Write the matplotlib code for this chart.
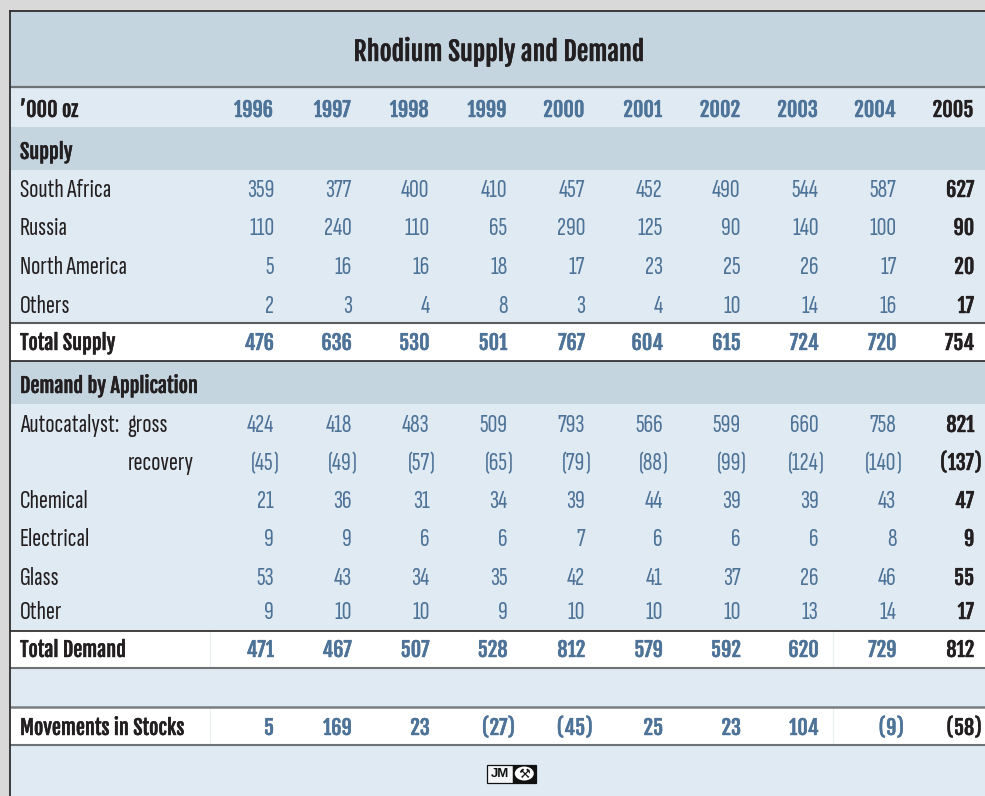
import matplotlib
matplotlib.use("Agg")
import matplotlib.pyplot as plt
from matplotlib.patches import Rectangle, Ellipse
import matplotlib.patheffects as pe

# ---------------- data ----------------
title = "Rhodium Supply and Demand"
unit_label = "\u2019000 oz"
years = ["1996", "1997", "1998", "1999", "2000", "2001", "2002", "2003", "2004", "2005"]

supply_header = "Supply"
south_africa = [359, 377, 400, 410, 457, 452, 490, 544, 587, 627]
russia = [110, 240, 110, 65, 290, 125, 90, 140, 100, 90]
north_america = [5, 16, 16, 18, 17, 23, 25, 26, 17, 20]
others = [2, 3, 4, 8, 3, 4, 10, 14, 16, 17]
total_supply = [476, 636, 530, 501, 767, 604, 615, 724, 720, 754]

demand_header = "Demand by Application"
auto_gross = [424, 418, 483, 509, 793, 566, 599, 660, 758, 821]
auto_recovery = [-45, -49, -57, -65, -79, -88, -99, -124, -140, -137]
chemical = [21, 36, 31, 34, 39, 44, 39, 39, 43, 47]
electrical = [9, 9, 6, 6, 7, 6, 6, 6, 8, 9]
glass = [53, 43, 34, 35, 42, 41, 37, 26, 46, 55]
other = [9, 10, 10, 9, 10, 10, 10, 13, 14, 17]
total_demand = [471, 467, 507, 528, 812, 579, 592, 620, 729, 812]
movements = [5, 169, 23, -27, -45, 25, 23, 104, -9, -58]

# rows: (label, sublabel, values, kind)
rows = [
    ("South Africa", "", south_africa, "reg"),
    ("Russia", "", russia, "reg"),
    ("North America", "", north_america, "reg"),
    ("Others", "", others, "reg"),
    ("Total Supply", "", total_supply, "total"),
    ("Autocatalyst:", "gross", auto_gross, "reg"),
    ("", "recovery", auto_recovery, "reg"),
    ("Chemical", "", chemical, "reg"),
    ("Electrical", "", electrical, "reg"),
    ("Glass", "", glass, "reg"),
    ("Other", "", other, "reg"),
    ("Total Demand", "", total_demand, "total"),
    ("Movements in Stocks", "", movements, "total"),
]

# ---------------- layout (pixels) ----------------
W, H = 985, 796
row_baselines = [197, 235, 274, 313, 350, 432, 470, 508, 546, 585, 619, 657, 735]
header_baseline = 117
supply_baseline = 159
demand_baseline = 393
title_baseline = 61
col_right0, col_step = 274, 77.8
label_x, sub_x = 20, 127.5

DARK = "#c4d5e0"
LIGHT = "#e0eaf2"
WHITE = "#ffffff"
OUTER = "#d9d9d9"
BLUE = "#4e7398"
BLACK = "#231f20"

REG_FONT = ["Sofia Sans Extra Condensed", "Pathway Gothic One", "DejaVu Sans"]
BOLD_FONT = ["Fjalla One", "Oswald", "DejaVu Sans"]

fig = plt.figure(figsize=(W / 100, H / 100), dpi=100, facecolor=OUTER)
ax = fig.add_axes([0, 0, 1, 1])
ax.set_xlim(0, W)
ax.set_ylim(H, 0)
ax.axis("off")
renderer = fig.canvas.get_renderer()


def fit_size(text, family, weight, width):
    t = ax.text(0, 0, text, fontsize=20, family=family, weight=weight)
    w = t.get_window_extent(renderer).width
    t.remove()
    return 20 * width / w


REG_FS = fit_size("South Africa", REG_FONT, "normal", 91)
BOLD_FS = fit_size("Total Supply", BOLD_FONT, "normal", 95.5)
TITLE_FS = fit_size(title, BOLD_FONT, "normal", 291)


def bold_text(x, y, s, color, fs=None, ha="left"):
    return ax.text(x, y, s, family=BOLD_FONT, fontsize=fs or BOLD_FS, color=color, ha=ha,
                   va="baseline", zorder=5,
                   path_effects=[pe.withStroke(linewidth=0.3, foreground=color)])


# ---------------- bands ----------------
x0, x1 = 10, W + 10
bands = [
    (11, 87, DARK), (87, 127, LIGHT), (127, 170, DARK), (170, 323, LIGHT),
    (323, 361, WHITE), (361, 404, DARK), (404, 631, LIGHT), (631, 668, WHITE),
    (668, 707, LIGHT), (707, 745, WHITE), (745, H + 5, LIGHT),
]
for ya, yb, c in bands:
    ax.add_patch(Rectangle((x0, ya), x1 - x0, yb - ya, facecolor=c, edgecolor="none", zorder=1))

# faint dividers in white rows
for ya, yb in [(631, 668), (707, 745)]:
    for xv in (210, 833):
        ax.plot([xv, xv], [ya, yb], color="#eceff2", lw=0.8, zorder=2)

# horizontal rules
rules = [(87, "#6f7275", 1.6), (323, "#5a5d60", 1.5), (361, "#222222", 1.2), (631, "#222222", 1.2),
         (668, "#6f7275", 1.5), (707, "#7a7d80", 1.8), (745, "#6f7275", 1.5)]
for yv, c, lw in rules:
    ax.plot([x0, x1], [yv, yv], color=c, lw=lw, zorder=3, solid_capstyle="butt")

# outer border
ax.plot([x0, x0], [11, H + 5], color="#2e2e2e", lw=1.3, zorder=4)
ax.plot([x0, x1], [11, 11], color="#2e2e2e", lw=1.3, zorder=4)

# ---------------- texts ----------------
bold_text((x0 + 988) / 2, title_baseline, title, BLACK, fs=TITLE_FS, ha="center")
bold_text(label_x, header_baseline, unit_label, BLACK)
for i, yr in enumerate(years):
    bold_text(col_right0 - 1 + i * col_step, header_baseline, yr,
              BLACK if i == len(years) - 1 else BLUE, ha="right")
bold_text(label_x, supply_baseline, supply_header, BLACK)
bold_text(label_x, demand_baseline, demand_header, BLACK)


def draw_value(x, y, v, bold, color):
    if bold:
        if v < 0:
            bold_text(x, y, f"({-v}", color, ha="right")
            bold_text(x, y, ")", color, ha="left")
        else:
            bold_text(x, y, f"{v}", color, ha="right")
        return
    if v < 0:
        ax.text(x, y, f"({-v}", family=REG_FONT, fontsize=REG_FS, color=color, ha="right", va="baseline", zorder=5)
        ax.text(x, y, ")", family=REG_FONT, fontsize=REG_FS, color=color, ha="left", va="baseline", zorder=5)
    else:
        ax.text(x, y, f"{v}", family=REG_FONT, fontsize=REG_FS, color=color, ha="right", va="baseline", zorder=5)


for (label, sub, vals, kind), yb in zip(rows, row_baselines):
    if kind == "total":
        bold_text(label_x, yb, label, BLACK)
    else:
        if label:
            ax.text(label_x, yb, label, family=REG_FONT, fontsize=REG_FS, color=BLACK,
                    ha="left", va="baseline", zorder=5)
        if sub:
            ax.text(sub_x, yb, sub, family=REG_FONT, fontsize=REG_FS, color=BLACK,
                    ha="left", va="baseline", zorder=5)
    for i, v in enumerate(vals):
        last = i == len(vals) - 1
        xr = col_right0 + i * col_step
        if kind == "total":
            draw_value(xr, yb, v, True, BLACK if last else BLUE)
        elif last:
            draw_value(xr, yb, v, True, BLACK)
        else:
            draw_value(xr, yb, v, False, BLUE)

# ---------------- JM logo ----------------
ax.add_patch(Rectangle((487, 764.5), 26, 18, facecolor="#f4f6f8", edgecolor="#111111", lw=0.9, zorder=6))
ax.add_patch(Rectangle((513, 764.5), 22.5, 18, facecolor="#111111", edgecolor="#111111", lw=0.9, zorder=6))
ax.text(500, 773.8, "JM", family=["Liberation Sans", "DejaVu Sans"], weight="bold", fontsize=9.5,
        color="#111111", ha="center", va="center", zorder=7)
ax.add_patch(Ellipse((524.3, 773.5), 19, 14, facecolor="white", edgecolor="none", zorder=7))
ax.text(524.3, 774, "\u2692", family=["DejaVu Sans"], fontsize=9.5, color="#111111",
        ha="center", va="center", zorder=8)

fig.savefig("out.png", dpi=100, facecolor=OUTER)
